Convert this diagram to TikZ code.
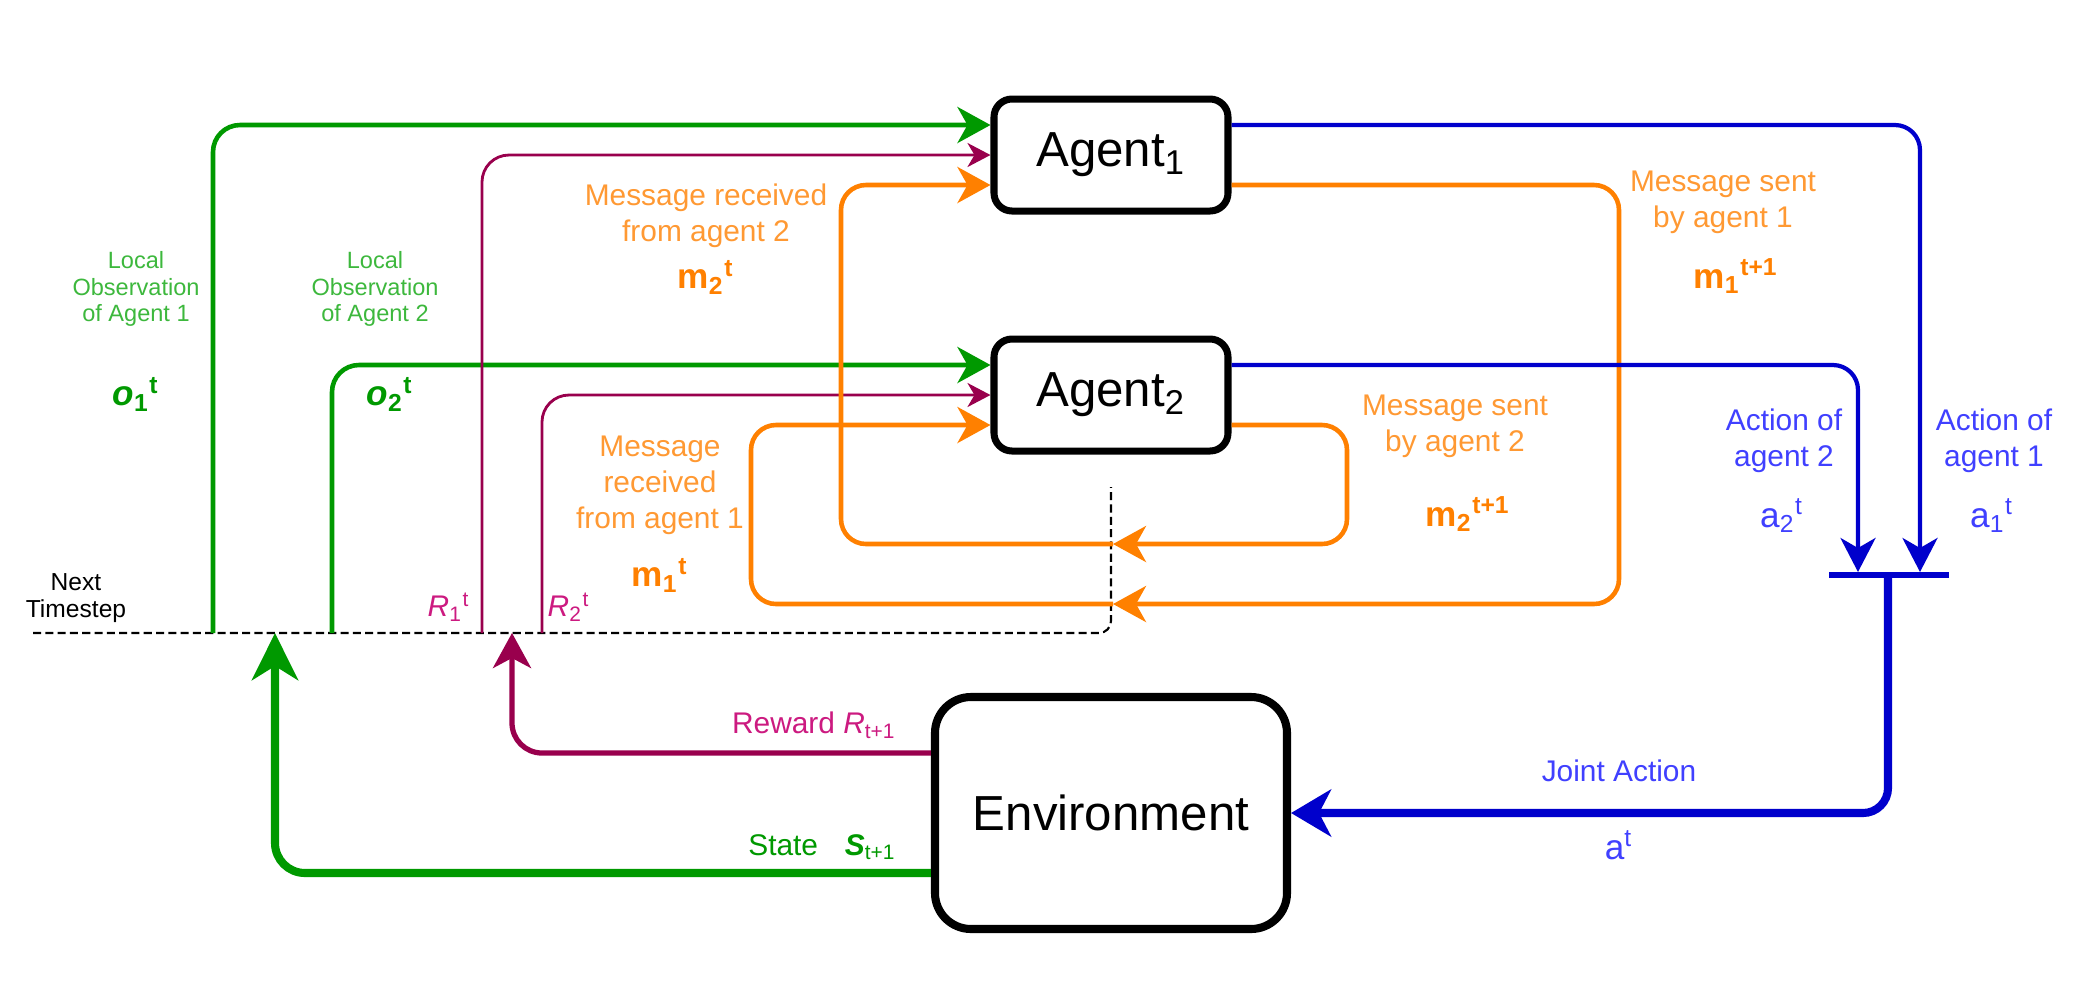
\documentclass[tikz,border=0pt]{standalone}
\usepackage{fontspec}
\setmainfont{Liberation Sans}
\usetikzlibrary{arrows.meta, positioning, calc}
\definecolor{obsgreen}{HTML}{009900}
\definecolor{obslabel}{HTML}{3DB83D}
\definecolor{rewpurple}{HTML}{99004D}
\definecolor{rewlabel}{HTML}{CC1A80}
\definecolor{msgorange}{HTML}{FF8000}
\definecolor{msglabel}{HTML}{FF9933}
\definecolor{actblue}{HTML}{0000CC}
\definecolor{actlabel}{HTML}{4040FF}

\begin{document}
\begin{tikzpicture}[
  agent/.style={rectangle, rounded corners=0.18cm, draw=black, fill=white, line width=2pt,
    minimum width=2.34cm, minimum height=1.12cm, font=\fontsize{14}{16}\selectfont},
  world/.style={agent, rounded corners=0.36cm, line width=2.3pt,
    minimum width=3.52cm, minimum height=2.32cm},
  lbl/.style={align=center, inner sep=0pt, text=#1, font=\fontsize{8.5}{10.2}\selectfont},
  tiny/.style={align=center, inner sep=0pt, text=#1, font=\fontsize{6.7}{7.6}\selectfont},
  sym/.style={inner sep=0pt, text=#1, font=\fontsize{10}{12}\selectfont},
  timeline/.style={draw=black, line width=0.6pt, dash pattern=on 2.3pt off 1.2pt, rounded corners=0.12cm},
  obs/.style={draw=obsgreen, line width=1.3pt, rounded corners=0.27cm,
    -{Stealth[length=0.33cm, width=0.36cm, inset=0.1cm]}},
  rwd/.style={draw=rewpurple, line width=0.8pt, rounded corners=0.27cm,
    -{Stealth[length=0.23cm, width=0.24cm, inset=0.07cm]}},
  msg/.style={draw=msgorange, line width=1.3pt, rounded corners=0.25cm,
    -{Stealth[length=0.33cm, width=0.36cm, inset=0.1cm]}},
  act/.style={draw=actblue, line width=1.2pt, rounded corners=0.25cm,
    -{Stealth[length=0.34cm, width=0.35cm, inset=0.1cm]}},
  joint/.style={draw=actblue, line width=2.3pt, rounded corners=0.25cm,
    -{Stealth[length=0.40cm, width=0.47cm, inset=0.12cm]}},
  state/.style={draw=obsgreen, line width=2.3pt, rounded corners=0.3cm,
    -{Stealth[length=0.47cm, width=0.46cm, inset=0.14cm]}},
  reward/.style={draw=rewpurple, line width=1.5pt, rounded corners=0.3cm,
    -{Stealth[length=0.35cm, width=0.38cm, inset=0.1cm]}}
]
  \fill[white] (0,0) rectangle (20.83,-9.86);

  % Boxes
  \node[agent] (agent1) at (11.11,-1.55) {Agent\textsubscript{1}};
  \node[agent] (agent2) at (11.11,-3.95) {Agent\textsubscript{2}};
  \node[world] (env) at (11.11,-8.13) {Environment};

  % Next timestep
  \coordinate (tl0) at (0.33,-6.33);
  \coordinate (tl1) at (11.11,-6.33);
  \coordinate (tl2) at (11.11,-4.87);
  \draw[timeline] (tl0) -- (tl1) -- (tl2);
  \node[tiny=black, font=\fontsize{7}{7.6}\selectfont] (next) at (0.76,-5.98) {Next\\Timestep};

  % Observations
  \coordinate (o1out) at (2.13,-6.33);
  \coordinate (o2out) at (3.32,-6.33);
  \draw[obs] (o1out) |- ([yshift=0.3cm]agent1.west);
  \draw[obs] (o2out) |- ([yshift=0.3cm]agent2.west);
  \node[tiny=obslabel] (obs1txt) at (1.36,-2.89) {Local\\Observation\\of Agent 1};
  \node[sym=obsgreen, font=\fontsize{10}{12}\selectfont\bfseries] (obs1sym) at (1.36,-3.94) {\textit{o}\textsubscript{1}\textsuperscript{t}};
  \node[tiny=obslabel] (obs2txt) at (3.75,-2.89) {Local\\Observation\\of Agent 2};
  \node[sym=obsgreen, font=\fontsize{10}{12}\selectfont\bfseries] (obs2sym) at (3.90,-3.94) {\textit{o}\textsubscript{2}\textsuperscript{t}};

  % Rewards per agent
  \coordinate (r1out) at (4.82,-6.33);
  \coordinate (r2out) at (5.42,-6.33);
  \draw[rwd] (r1out) |- (agent1.west);
  \draw[rwd] (r2out) |- (agent2.west);
  \node[sym=rewlabel, font=\fontsize{8.5}{10}\selectfont] (r1sym) at (4.49,-6.07) {\textit{R}\textsubscript{1}\textsuperscript{t}};
  \node[sym=rewlabel, font=\fontsize{8.5}{10}\selectfont] (r2sym) at (5.69,-6.07) {\textit{R}\textsubscript{2}\textsuperscript{t}};

  % Messages
  \coordinate (mx1) at (11.13,-6.04);
  \coordinate (mx2) at (11.13,-5.44);
  \draw[msg] ([yshift=-0.3cm]agent1.east) -| (16.19,-6.04) -- (mx1);
  \draw[msg] (mx1) -| (7.51,-4.25) -- ([yshift=-0.3cm]agent2.west);
  \draw[msg] ([yshift=-0.3cm]agent2.east) -| (13.47,-5.44) -- (mx2);
  \draw[msg] (mx2) -| (8.41,-1.85) -- ([yshift=-0.3cm]agent1.west);
  \node[lbl=msglabel] (rec2txt) at (7.06,-2.16) {Message received\\from agent 2};
  \node[sym=msgorange, font=\fontsize{10}{12}\selectfont\bfseries] (rec2sym) at (7.06,-2.77) {m\textsubscript{2}\textsuperscript{t}};
  \node[lbl=msglabel] (rec1txt) at (6.60,-4.85) {Message\\received\\from agent 1};
  \node[sym=msgorange, font=\fontsize{10}{12}\selectfont\bfseries] (rec1sym) at (6.60,-5.75) {m\textsubscript{1}\textsuperscript{t}};
  \node[lbl=msglabel] (sent1txt) at (17.23,-2.02) {Message sent\\by agent 1};
  \node[sym=msgorange, font=\fontsize{10}{12}\selectfont\bfseries] (sent1sym) at (17.36,-2.76) {m\textsubscript{1}\textsuperscript{t+1}};
  \node[lbl=msglabel] (sent2txt) at (14.55,-4.26) {Message sent\\by agent 2};
  \node[sym=msgorange, font=\fontsize{10}{12}\selectfont\bfseries] (sent2sym) at (14.68,-5.14) {m\textsubscript{2}\textsuperscript{t+1}};

  % Actions
  \coordinate (a1in) at (19.20,-5.72);
  \coordinate (a2in) at (18.58,-5.72);
  \coordinate (bar1) at (18.29,-5.75);
  \coordinate (bar2) at (19.49,-5.75);
  \coordinate (join) at (18.88,-5.75);
  \draw[act] ([yshift=0.3cm]agent1.east) -| (a1in);
  \draw[act] ([yshift=0.3cm]agent2.east) -| (a2in);
  \draw[draw=actblue, line width=1.5pt] (bar1) -- (bar2);
  \draw[joint] (join) |- (env.east);
  \node[lbl=actlabel] (act2txt) at (17.84,-4.41) {Action of\\agent 2};
  \node[sym=actlabel] (act2sym) at (17.82,-5.16) {a\textsubscript{2}\textsuperscript{t}};
  \node[lbl=actlabel] (act1txt) at (19.94,-4.41) {Action of\\agent 1};
  \node[sym=actlabel] (act1sym) at (19.92,-5.16) {a\textsubscript{1}\textsuperscript{t}};
  \node[lbl=actlabel] (jointtxt) at (16.19,-7.71) {Joint Action};
  \node[sym=actlabel] (jointsym) at (16.19,-8.45) {a\textsuperscript{t}};

  % Environment feedback
  \coordinate (rwin) at (5.12,-6.33);
  \coordinate (stin) at (2.75,-6.33);
  \draw[reward] ([yshift=0.6cm]env.west) -| (rwin);
  \draw[state] ([yshift=-0.6cm]env.west) -| (stin);
  \node[lbl=rewlabel, anchor=east] (rewtxt) at (8.97,-7.25) {Reward \textit{R}\textsubscript{t+1}};
  \node[lbl=obsgreen, anchor=east] (statetxt) at (8.97,-8.47) {State\hspace{0.9em}\textbf{\textit{S}}\textsubscript{t+1}};
\end{tikzpicture}
\end{document}
